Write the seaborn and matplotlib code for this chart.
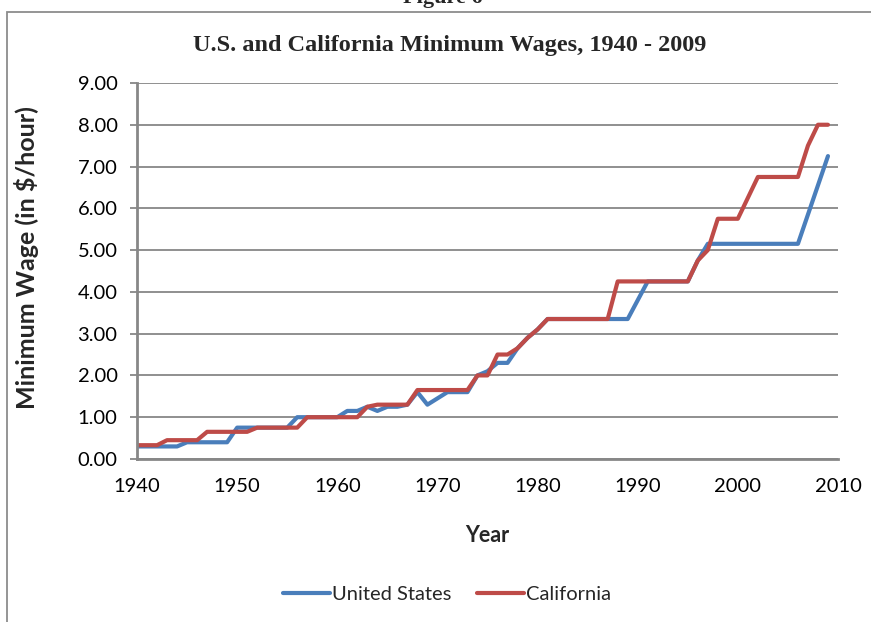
# -*- coding: utf-8 -*-
"""
U.S. and California minimum wages, 1940 - 2009 (line chart, Excel style)
"""

import numpy as np
import pandas as pd
import matplotlib
matplotlib.use("Agg")
import matplotlib.pyplot as plt
import seaborn as sns

# ============================================================
# Data (annual values, $/hour)
# ============================================================
years = np.arange(1940, 2010)

us_wage = [
    0.30, 0.30, 0.30, 0.30, 0.30,                    # 1940-1944
    0.40, 0.40, 0.40, 0.40, 0.40,                    # 1945-1949
    0.75, 0.75, 0.75, 0.75, 0.75, 0.75,              # 1950-1955
    1.00, 1.00, 1.00, 1.00, 1.00,                    # 1956-1960
    1.15, 1.15, 1.25, 1.15, 1.25, 1.25, 1.30, 1.60,  # 1961-1968
    1.30, 1.45, 1.60, 1.60, 1.60, 2.00, 2.10, 2.30,  # 1969-1976
    2.30, 2.65, 2.90, 3.10,                          # 1977-1980
    3.35, 3.35, 3.35, 3.35, 3.35, 3.35, 3.35, 3.35, 3.35,  # 1981-1989
    3.80, 4.25, 4.25, 4.25, 4.25, 4.25, 4.75,        # 1990-1996
    5.15, 5.15, 5.15, 5.15, 5.15, 5.15, 5.15, 5.15, 5.15, 5.15,  # 1997-2006
    5.85, 6.55, 7.25,                                # 2007-2009
]

ca_wage = [
    0.33, 0.33, 0.33,                                # 1940-1942
    0.45, 0.45, 0.45, 0.45,                          # 1943-1946
    0.65, 0.65, 0.65, 0.65, 0.65,                    # 1947-1951
    0.75, 0.75, 0.75, 0.75, 0.75,                    # 1952-1956
    1.00, 1.00, 1.00, 1.00, 1.00, 1.00,              # 1957-1962
    1.25, 1.30, 1.30, 1.30, 1.30,                    # 1963-1967
    1.65, 1.65, 1.65, 1.65, 1.65, 1.65,              # 1968-1973
    2.00, 2.00, 2.50, 2.50, 2.65, 2.90, 3.10,        # 1974-1980
    3.35, 3.35, 3.35, 3.35, 3.35, 3.35, 3.35,        # 1981-1987
    4.25, 4.25, 4.25, 4.25, 4.25, 4.25, 4.25, 4.25,  # 1988-1995
    4.75, 5.00, 5.75, 5.75, 5.75, 6.25,              # 1996-2001
    6.75, 6.75, 6.75, 6.75, 6.75,                    # 2002-2006
    7.50, 8.00, 8.00,                                # 2007-2009
]

series_names = ["United States", "California"]
series_colors = ["#4A7EBB", "#BE4B48"]

x_ticks = [1940, 1950, 1960, 1970, 1980, 1990, 2000, 2010]
y_ticks = [0, 1, 2, 3, 4, 5, 6, 7, 8, 9]

GRID_GREY = "#878787"
SERIF = ["Liberation Serif", "DejaVu Serif"]


def plot_minimum_wages():
    df = pd.DataFrame({
        "Year": np.concatenate([years, years]),
        "Wage": us_wage + ca_wage,
        "Series": [series_names[0]] * len(years) + [series_names[1]] * len(years),
    })

    sns.set_theme(style="white")
    plt.rcParams["font.family"] = ["Lato", "DejaVu Sans"]

    fig = plt.figure(figsize=(8.71, 6.22), dpi=100)
    ax = fig.add_axes([0.1573, 0.2621, 0.8048, 0.6045])

    # horizontal gridlines behind the lines
    ax.set_axisbelow(True)
    ax.yaxis.grid(True, color=GRID_GREY, linewidth=1.3)
    ax.xaxis.grid(False)

    sns.lineplot(
        data=df, x="Year", y="Wage", hue="Series",
        hue_order=series_names, palette=series_colors,
        linewidth=3.0, ax=ax, legend=True,
    )
    for line in ax.lines:
        line.set_solid_joinstyle("round")
        line.set_solid_capstyle("round")

    ax.set_xlim(1940, 2010)
    ax.set_ylim(0, 9)
    ax.set_xticks(x_ticks)
    ax.set_yticks(y_ticks)
    ax.set_yticklabels([f"{v:.2f}" for v in y_ticks])

    ax.tick_params(axis="y", which="major", left=True, length=5, width=1.3,
                   color=GRID_GREY, pad=9, labelsize=14.5, labelcolor="black")
    ax.tick_params(axis="x", which="major", bottom=False, pad=8,
                   labelsize=14.5, labelcolor="black")

    for side in ["top", "right"]:
        ax.spines[side].set_visible(False)
    for side in ["left", "bottom"]:
        ax.spines[side].set_visible(True)
        ax.spines[side].set_color(GRID_GREY)
        ax.spines[side].set_linewidth(2.0)

    ax.set_xlabel("")
    ax.set_ylabel("")
    fig.text(487 / 871, 1 - 535 / 622, "Year", ha="center", va="center",
             fontsize=15.5, fontweight="bold")
    fig.text(27 / 871, 1 - 258 / 622, "Minimum Wage (in $/hour)", ha="center",
             va="center", rotation=90, fontsize=18, fontweight="bold")

    # title (serif, like the original document font)
    fig.text(450 / 871, 1 - 46 / 622, "U.S. and California Minimum Wages, 1940 - 2009",
             ha="center", va="center", fontsize=17.5, fontweight="bold", family=SERIF)
    # caption above the chart, mostly cut off by the image edge
    fig.text(443 / 871, 1 - 3 / 622, "Figure 6", ha="center", va="baseline",
             fontsize=16, fontweight="bold", family=SERIF)

    # chart area border (only the left and top edges are inside the picture)
    border = plt.Rectangle((7 / 871, -0.1), 1.2, 1.1 - 12 / 622,
                           transform=fig.transFigure, fill=False,
                           edgecolor="#8C8C8C", linewidth=1.3, zorder=0)
    fig.add_artist(border)

    handles, labels = ax.get_legend_handles_labels()
    ax.get_legend().remove()
    fig.legend(handles, labels, loc="center", bbox_to_anchor=(447 / 871, 1 - 594 / 622),
               ncol=2, frameon=False, fontsize=14.5, handlelength=2.3,
               handletextpad=0.1, columnspacing=1.3)

    fig.savefig("out.png", dpi=100)
    plt.close(fig)


if __name__ == "__main__":
    plot_minimum_wages()
